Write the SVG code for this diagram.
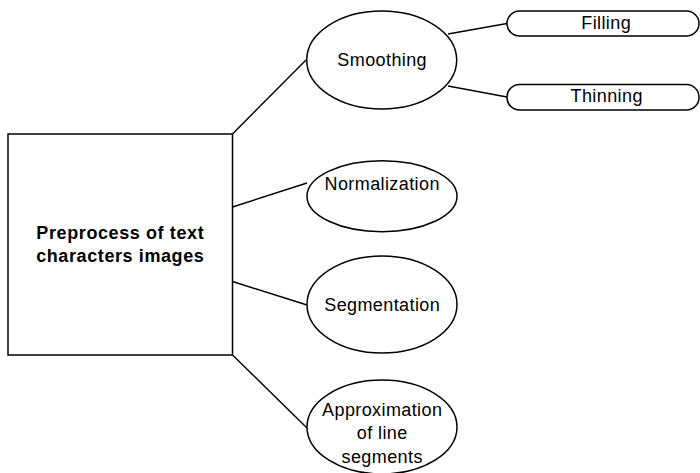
<svg xmlns="http://www.w3.org/2000/svg" width="700" height="473" viewBox="0 0 700 473">
<style>
.s{fill:#fff;stroke:#000;stroke-width:1.5}
.c{fill:none;stroke:#000;stroke-width:1.4}
text{font-family:"Liberation Sans",Arial,sans-serif;font-size:18px;fill:#000;text-anchor:middle;letter-spacing:0.4px}
.b{font-weight:bold;letter-spacing:0.6px}
</style>
<rect width="700" height="473" fill="#fff"/>
<g id="connectors">
<line class="c" x1="232.5" y1="134" x2="306" y2="60"/>
<line class="c" x1="232.5" y1="207" x2="307" y2="183"/>
<line class="c" x1="232.5" y1="281.5" x2="307" y2="305"/>
<line class="c" x1="232.5" y1="355" x2="307" y2="428"/>
<line class="c" x1="448" y1="34" x2="507" y2="23.5"/>
<line class="c" x1="448" y1="86" x2="507" y2="97"/>
</g>
<g id="root">
<rect class="s" x="8" y="134" width="224.5" height="221"/>
<text class="b" x="120.3" y="239">Preprocess of text</text>
<text class="b" x="120.3" y="262">characters images</text>
</g>
<g id="smoothing">
<ellipse class="s" cx="381.7" cy="60" rx="75" ry="49"/>
<text x="382.2" y="66">Smoothing</text>
</g>
<g id="filling">
<rect class="s" x="507" y="11" width="192" height="25" rx="12.5"/>
<text x="606.2" y="29">Filling</text>
</g>
<g id="thinning">
<rect class="s" x="507" y="84.5" width="192" height="25.5" rx="12.5"/>
<text x="606.7" y="101.7">Thinning</text>
</g>
<g id="normalization">
<ellipse class="s" cx="382" cy="196.2" rx="75" ry="35.5"/>
<text x="382.2" y="189.5">Normalization</text>
</g>
<g id="segmentation">
<ellipse class="s" cx="382" cy="304.5" rx="75" ry="48.5"/>
<text x="382.2" y="311">Segmentation</text>
</g>
<g id="approximation">
<ellipse class="s" cx="382" cy="427" rx="75" ry="47"/>
<text x="382.2" y="415.5">Approximation</text>
<text x="382.2" y="439">of line</text>
<text x="382.2" y="462.5">segments</text>
</g>
</svg>
